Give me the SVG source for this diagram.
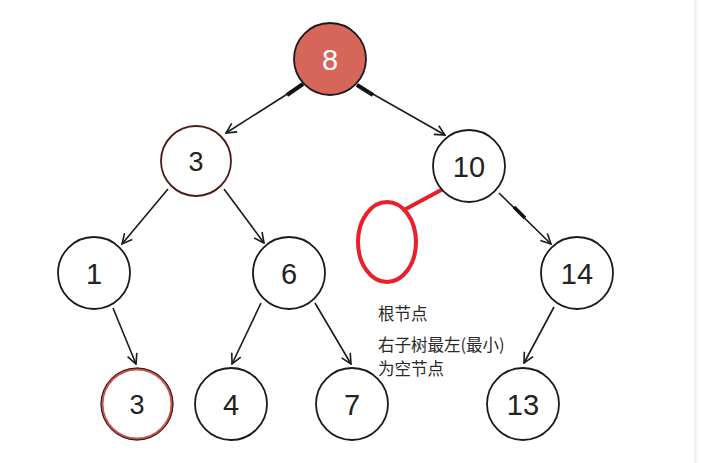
<svg xmlns="http://www.w3.org/2000/svg" width="701" height="463" viewBox="0 0 701 463">
<style>
.n{fill:#fff;stroke:#1a1a1a;stroke-width:1.8}
.t{font-family:"Liberation Sans","Noto Sans",Arial,sans-serif;font-size:29px;fill:#222;text-anchor:middle}
.e{stroke:#1a1a1a;stroke-width:1.6;fill:none;marker-end:url(#a)}
.lbl{font-family:"Noto Sans CJK SC","Noto Sans",sans-serif;font-size:16.5px;fill:#2a2a2a}
</style>
<defs>
<marker id="a" viewBox="0 0 12 12" refX="11" refY="6" markerWidth="12" markerHeight="12" markerUnits="userSpaceOnUse" orient="auto">
<path d="M1,1 L11,6 L1,11" fill="none" stroke="#1a1a1a" stroke-width="1.6"/>
</marker>
</defs>
<rect width="701" height="463" fill="#fff"/>
<line x1="695.5" y1="0" x2="695.5" y2="463" stroke="#ececec" stroke-width="2"/>
<g id="connectors">
<line class="e" x1="303" y1="84" x2="226" y2="133"/>
<line x1="303" y1="84" x2="287" y2="95" stroke="#111" stroke-width="4"/>
<line class="e" x1="357" y1="85" x2="445" y2="135"/>
<line x1="357" y1="85" x2="373" y2="95" stroke="#111" stroke-width="4"/>
<line class="e" x1="499" y1="193" x2="551" y2="244"/>
<line x1="514" y1="207" x2="525" y2="218" stroke="#111" stroke-width="3.5"/>
<line class="e" x1="168" y1="189" x2="122" y2="244"/>
<line class="e" x1="224" y1="189" x2="264" y2="243"/>
<line class="e" x1="113" y1="308" x2="136" y2="364"/>
<line class="e" x1="261" y1="303" x2="232" y2="364"/>
<line class="e" x1="315" y1="303" x2="351" y2="364"/>
<line class="e" x1="554" y1="307" x2="524" y2="363"/>
<line x1="443" y1="189" x2="404" y2="210" stroke="#e8202a" stroke-width="4" stroke-linecap="round"/>
</g>
<g id="node-8"><circle cx="330" cy="59" r="36" fill="#d6655a" stroke="#1a1a1a" stroke-width="1.8"/><text class="t" x="330" y="70" style="fill:#fff">8</text></g>
<g id="node-3a"><circle class="n" cx="196" cy="161" r="35" style="stroke:#4a1a14"/><text class="t" x="196" y="171" style="font-size:27px">3</text></g>
<g id="node-10"><circle class="n" cx="469" cy="166" r="36"/><text class="t" x="469" y="177">10</text></g>
<g id="node-1"><circle class="n" cx="94" cy="273" r="36"/><text class="t" x="94" y="284">1</text></g>
<g id="node-6"><circle class="n" cx="289" cy="273" r="36"/><text class="t" x="289" y="284">6</text></g>
<g id="node-14"><circle class="n" cx="577" cy="273" r="36"/><text class="t" x="577" y="284">14</text></g>
<g id="node-3b"><circle cx="137" cy="404" r="35" fill="#fff" stroke="#c9534a" stroke-width="3"/><circle cx="137" cy="404" r="36" fill="none" stroke="#1a1a1a" stroke-width="1"/><text class="t" x="137" y="414" style="font-size:27px">3</text></g>
<g id="node-4"><circle class="n" cx="231" cy="404" r="36"/><text class="t" x="231" y="415">4</text></g>
<g id="node-7"><circle class="n" cx="352" cy="404" r="36"/><text class="t" x="352" y="415">7</text></g>
<g id="node-13"><circle class="n" cx="523" cy="404" r="36"/><text class="t" x="523" y="415">13</text></g>
<g id="node-empty"><ellipse cx="387" cy="242" rx="29" ry="40" fill="none" stroke="#e8202a" stroke-width="4"/></g>
<g id="labels">
<text class="lbl" x="378" y="320">根节点</text>
<text class="lbl" x="378" y="351">右子树最左(最小)</text>
<text class="lbl" x="378" y="375">为空节点</text>
</g>
</svg>
